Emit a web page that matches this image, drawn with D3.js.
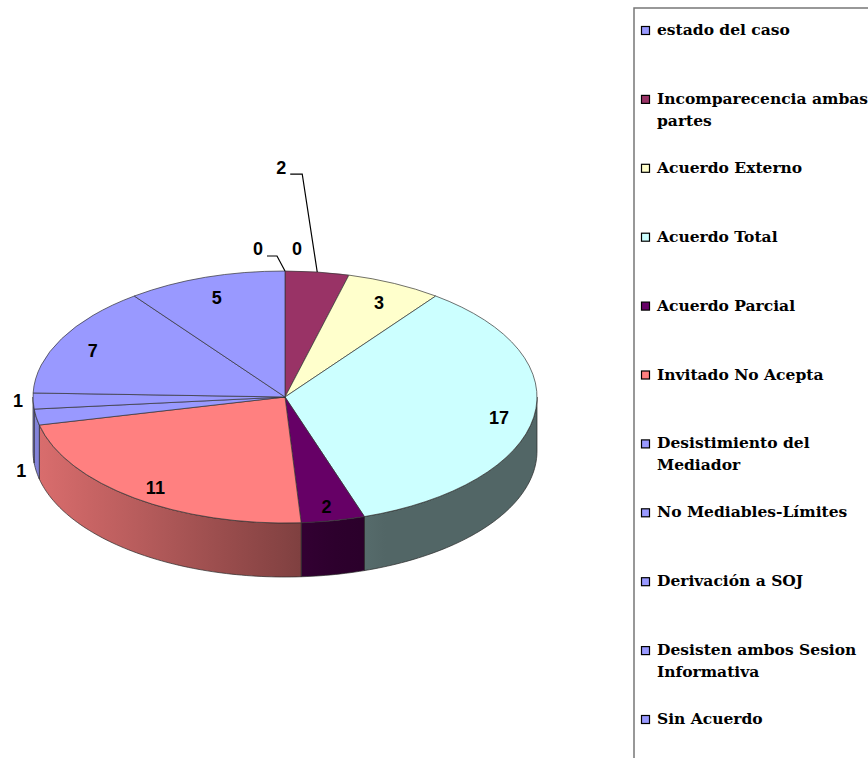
<!DOCTYPE html>
<html>
<head>
<meta charset="utf-8">
<script src="https://cdn.jsdelivr.net/npm/d3@7"></script>
<style>
  body { margin: 0; background: #fff; }
  .lbl { font-family: "Liberation Sans", Arial, sans-serif; font-weight: bold; font-size: 18px; }
  .leg { font-family: "DejaVu Serif", serif; font-weight: bold; font-size: 15.5px; }
</style>
</head>
<body>
<svg id="chart" width="868" height="758"></svg>
<script>
// data
var categories = ["estado del caso", "Incomparecencia ambas partes", "Acuerdo Externo", "Acuerdo Total",
  "Acuerdo Parcial", "Invitado No Acepta", "Desistimiento del Mediador", "No Mediables-Límites",
  "Derivación a SOJ", "Desisten ambos Sesion Informativa", "Sin Acuerdo"];
var values = [0, 2, 3, 17, 2, 11, 1, 1, 7, 5, 0];
var colors = ["#9999FF", "#993366", "#FFFFCC", "#CCFFFF", "#660066", "#FF8080",
  "#9999FF", "#9999FF", "#9999FF", "#9999FF", "#9999FF"];

var cx = 285, cy = 397, rx = 252, ry = 126, depth = 54;

var svg = d3.select("#chart");
var defs = svg.append("defs");

var pie = d3.pie().sort(null).value(function (d) { return d; });
var arcs = pie(values);

function pt(a, r) {
  return [cx + r * rx * Math.sin(a), cy - r * ry * Math.cos(a)];
}

// side shading goes darker to the right
var shade = d3.scaleLinear()
  .domain([cx - rx, cx + 15, cx + 80])
  .range([0.86, 0.5, 0.4])
  .clamp(true);

function darker(c, k) {
  var r = d3.rgb(c);
  return d3.rgb(r.r * k, r.g * k, r.b * k).formatHex();
}

function sidePath(a0, a1) {
  var s = Math.max(a0, Math.PI / 2), e = Math.min(a1, 3 * Math.PI / 2);
  if (e <= s) return null;
  var n = Math.max(2, Math.ceil((e - s) / 0.02));
  var top = d3.range(n + 1).map(function (i) { return pt(s + (e - s) * i / n, 1); });
  var bot = top.map(function (p) { return [p[0], p[1] + depth]; }).reverse();
  return d3.line()(top.concat(bot)) + "Z";
}

// side walls
var sides = svg.append("g");
arcs.forEach(function (d, i) {
  if (values[i] === 0) return;
  var p = sidePath(d.startAngle, d.endAngle);
  if (!p) return;
  var grad = defs.append("linearGradient")
    .attr("id", "side" + i)
    .attr("gradientUnits", "userSpaceOnUse")
    .attr("x1", cx - rx).attr("x2", cx + rx)
    .attr("y1", 0).attr("y2", 0);
  d3.range(11).forEach(function (j) {
    var x = cx - rx + 2 * rx * j / 10;
    grad.append("stop").attr("offset", j / 10).attr("stop-color", darker(colors[i], shade(x)));
  });
  sides.append("path")
    .attr("d", p)
    .attr("fill", "url(#side" + i + ")")
    .attr("stroke", "#2a2a2a")
    .attr("stroke-width", 0.7);
});

// top faces
var arc = d3.arc().innerRadius(0).outerRadius(rx);
var topG = svg.append("g")
  .attr("transform", "translate(" + cx + "," + cy + ") scale(1," + (ry / rx) + ")");
topG.selectAll("path")
  .data(arcs.filter(function (d) { return d.value > 0; }))
  .enter().append("path")
  .attr("d", arc)
  .attr("fill", function (d) { return colors[d.index]; })
  .attr("stroke", "#333")
  .attr("stroke-width", 0.7)
  .attr("vector-effect", "non-scaling-stroke");

// data labels
var labels = svg.append("g");
arcs.forEach(function (d, i) {
  var mid = (d.startAngle + d.endAngle) / 2;
  var span = d.endAngle - d.startAngle;
  var outside = span < 0.2 || (values[i] <= 2 && Math.cos(mid) > 0);
  var x, y, leader = null;
  if (!outside) {
    x = cx + 0.86 * rx * Math.sin(mid);
    y = cy - 0.86 * ry * Math.cos(mid) + 4;
  } else if (Math.cos(mid) > 0.9) {
    var e = pt(mid, 1);
    if (values[i] === 0 && mid < Math.PI) {
      x = e[0] + 12; y = e[1] - 22;
    } else if (values[i] === 0) {
      x = e[0] - 27; y = e[1] - 22;
      leader = [[x + 9, y + 7], [x + 19, y + 7], e];
    } else {
      x = e[0] - 36; y = e[1] - 104;
      leader = [[x + 9, y + 6], [x + 21, y + 6], e];
    }
  } else {
    var f = Math.max(0, Math.min(1, (-Math.cos(mid) - 0.05) * 10));
    x = cx + 1.06 * rx * Math.sin(mid);
    y = cy - ry * Math.cos(mid) + depth * f;
  }
  if (leader) {
    labels.append("path")
      .attr("d", d3.line()(leader))
      .attr("fill", "none")
      .attr("stroke", "#000")
      .attr("stroke-width", 1.2);
  }
  labels.append("text")
    .attr("class", "lbl")
    .attr("x", x).attr("y", y)
    .attr("text-anchor", "middle")
    .attr("dominant-baseline", "central")
    .text(values[i]);
});

// legend
var legX = 634, legY = 8;
svg.append("path")
  .attr("d", "M" + 868 + "," + legY + "H" + legX + "V" + 758)
  .attr("fill", "none")
  .attr("stroke", "#777")
  .attr("stroke-width", 1.5);

var legScale = d3.scaleLinear().domain([0, categories.length - 1]).range([29, 718]);

function wrap(s, maxChars) {
  var words = s.split(" "), lines = [], cur = "";
  words.forEach(function (w) {
    var t = cur ? cur + " " + w : w;
    if (t.length > maxChars && cur) { lines.push(cur); cur = w; } else cur = t;
  });
  lines.push(cur);
  return lines;
}

var items = svg.append("g").selectAll("g")
  .data(categories)
  .enter().append("g")
  .attr("transform", function (d, i) { return "translate(0," + legScale(i) + ")"; });

items.append("rect")
  .attr("x", 641.5).attr("y", -2.5)
  .attr("width", 8).attr("height", 8)
  .attr("fill", function (d, i) { return colors[i]; })
  .attr("stroke", "#000")
  .attr("stroke-width", 1.2);

items.each(function (d) {
  var t = d3.select(this).append("text")
    .attr("class", "leg")
    .attr("x", 657).attr("y", 0)
    .attr("dominant-baseline", "central");
  wrap(d, 22).forEach(function (line, k) {
    t.append("tspan").attr("x", 657).attr("dy", k ? 22 : 0).text(line);
  });
});
</script>
</body>
</html>
